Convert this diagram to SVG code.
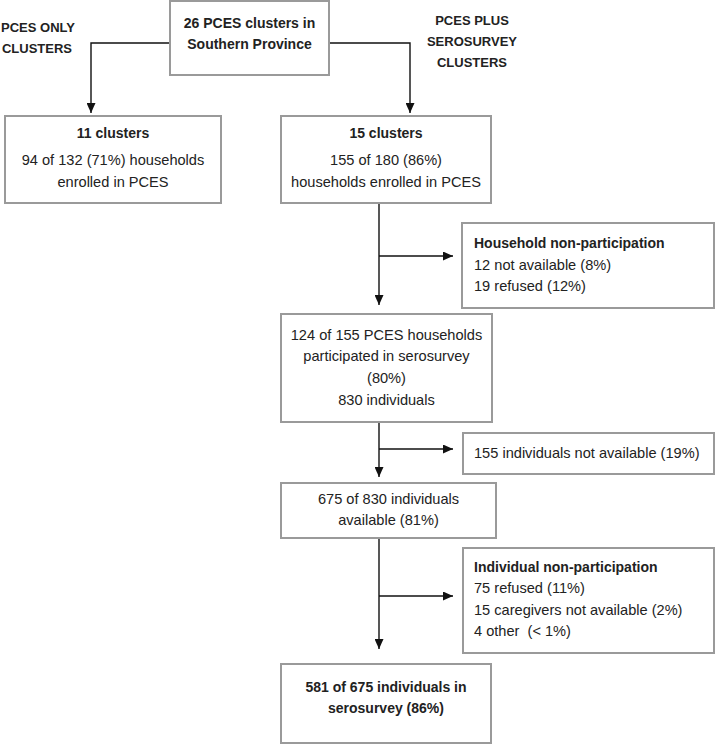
<svg xmlns="http://www.w3.org/2000/svg" width="715" height="744" viewBox="0 0 715 744">
<defs>
<style>
.box{fill:#fff;stroke:#9a9a9a;stroke-width:2}
.ln{fill:none;stroke:#111;stroke-width:1.4}
text{font-family:"Liberation Sans",Arial,sans-serif;font-size:14.6px;fill:#222}
.b{font-weight:bold;font-size:14px}
.lb{font-weight:bold;font-size:13px}
.c{text-anchor:middle}
</style>
<marker id="ah" markerUnits="userSpaceOnUse" markerWidth="10" markerHeight="9" refX="10" refY="4.5" orient="auto">
<path d="M0,0 L10,4.5 L0,9 z" fill="#111"/>
</marker>
</defs>
<rect width="715" height="744" fill="#fff"/>
<g id="labels">
<text class="lb c" x="38" y="32">PCES ONLY</text>
<text class="lb c" x="37" y="53">CLUSTERS</text>
<text class="lb c" x="472" y="25">PCES PLUS</text>
<text class="lb c" x="472" y="46">SEROSURVEY</text>
<text class="lb c" x="472" y="67">CLUSTERS</text>
</g>
<g id="connectors">
<path class="ln" d="M170,43 H91 V113" marker-end="url(#ah)"/>
<path class="ln" d="M329,43 H410 V113" marker-end="url(#ah)"/>
<path class="ln" d="M379,203 V305" marker-end="url(#ah)"/>
<path class="ln" d="M379,256 H453" marker-end="url(#ah)"/>
<path class="ln" d="M379,422 V477" marker-end="url(#ah)"/>
<path class="ln" d="M379,449 H453" marker-end="url(#ah)"/>
<path class="ln" d="M379,538 V649" marker-end="url(#ah)"/>
<path class="ln" d="M379,596 H453" marker-end="url(#ah)"/>
</g>
<g id="n-top">
<rect class="box" x="170" y="1" width="159" height="74"/>
<text class="b c" x="249.5" y="28">26 PCES clusters in</text>
<text class="b c" x="249.5" y="49">Southern Province</text>
</g>
<g id="n-left">
<rect class="box" x="5" y="116" width="216" height="87"/>
<text class="b c" x="113" y="138">11 clusters</text>
<text class="c" x="113" y="165">94 of 132 (71%) households</text>
<text class="c" x="113" y="187">enrolled in PCES</text>
</g>
<g id="n-right">
<rect class="box" x="281" y="116" width="210" height="87"/>
<text class="b c" x="386" y="138">15 clusters</text>
<text class="c" x="386" y="165">155 of 180 (86%)</text>
<text class="c" x="386" y="187">households enrolled in PCES</text>
</g>
<g id="n-hh-nonpart">
<rect class="box" x="462" y="223" width="252" height="85"/>
<text class="b" x="474" y="248">Household non-participation</text>
<text x="474" y="270">12 not available (8%)</text>
<text x="474" y="291">19 refused (12%)</text>
</g>
<g id="n-124">
<rect class="box" x="281" y="314" width="211" height="108"/>
<text class="c" x="386.5" y="340">124 of 155 PCES households</text>
<text class="c" x="386.5" y="361">participated in serosurvey</text>
<text class="c" x="386.5" y="383">(80%)</text>
<text class="c" x="386.5" y="405">830 individuals</text>
</g>
<g id="n-155">
<rect class="box" x="463" y="433" width="251" height="41"/>
<text x="474" y="458">155 individuals not available (19%)</text>
</g>
<g id="n-675">
<rect class="box" x="281" y="483" width="215" height="55"/>
<text class="c" x="388.5" y="504">675 of 830 individuals</text>
<text class="c" x="388.5" y="525">available (81%)</text>
</g>
<g id="n-ind-nonpart">
<rect class="box" x="463" y="548" width="251" height="105"/>
<text class="b" x="474" y="572">Individual non-participation</text>
<text x="474" y="593">75 refused (11%)</text>
<text x="474" y="615">15 caregivers not available (2%)</text>
<text x="474" y="636" style="white-space:pre">4 other  (&lt; 1%)</text>
</g>
<g id="n-final">
<rect class="box" x="281" y="664" width="210" height="79"/>
<text class="b c" x="386" y="692">581 of 675 individuals in</text>
<text class="b c" x="386" y="713">serosurvey (86%)</text>
</g>
</svg>
